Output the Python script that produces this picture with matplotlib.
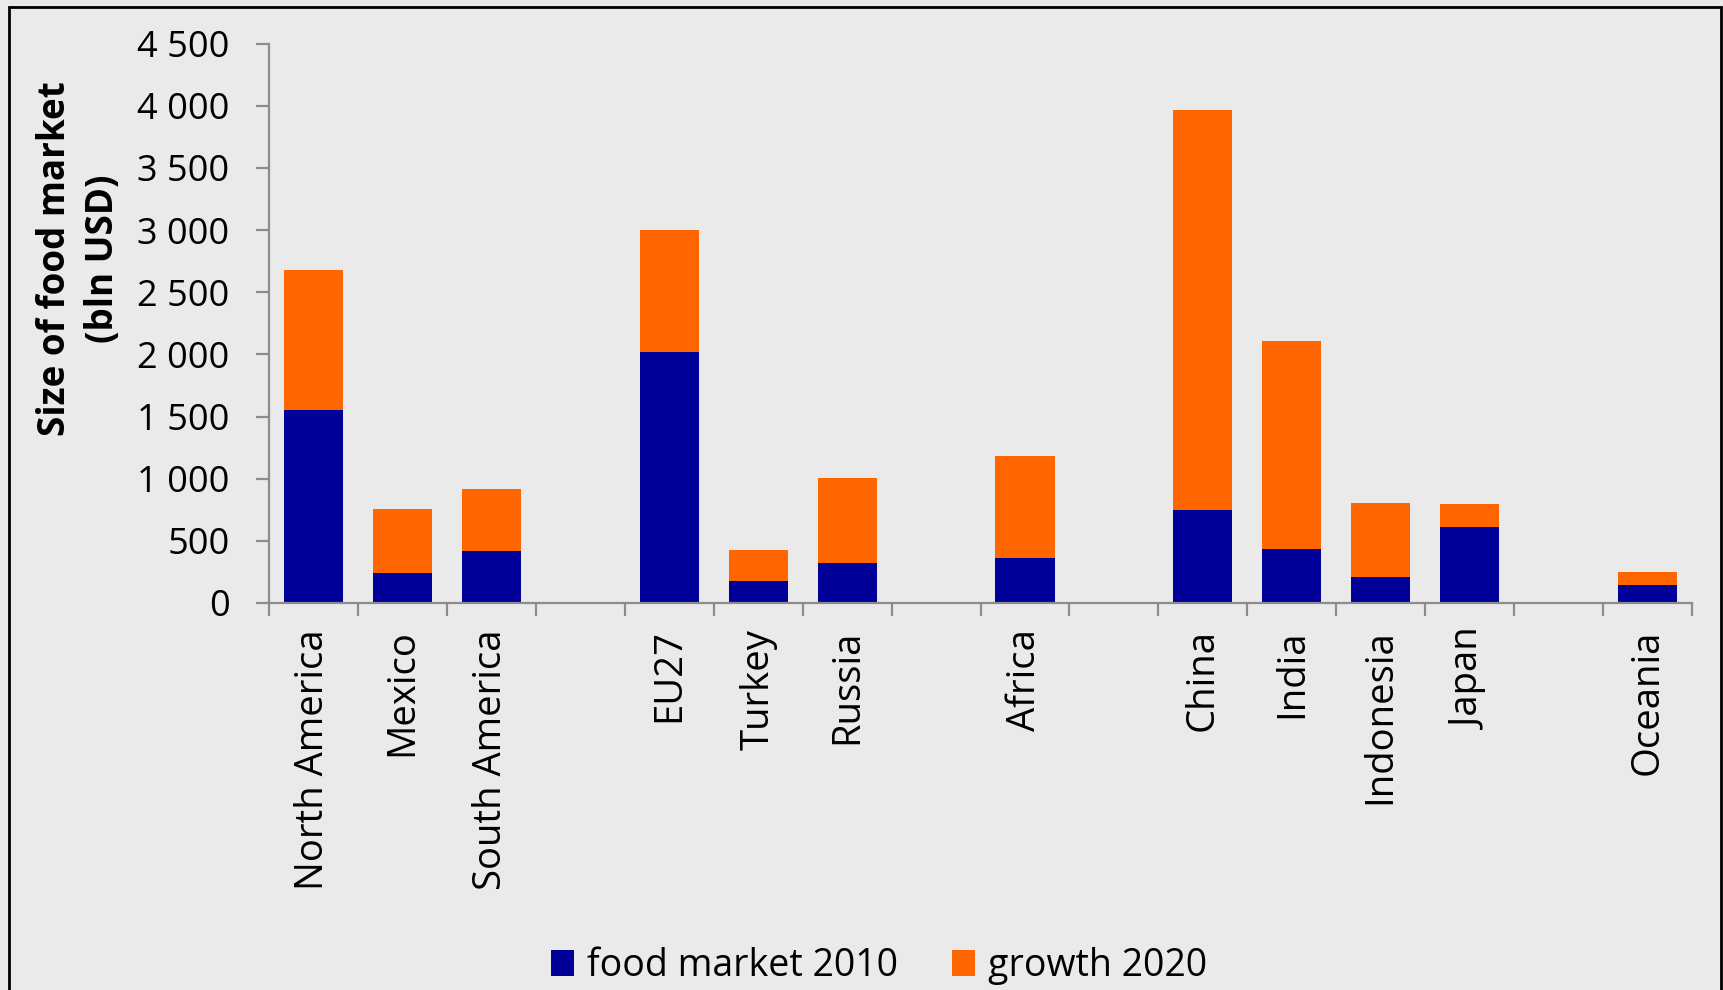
import numpy as np
import matplotlib.pyplot as plt
from matplotlib.patches import Rectangle
from matplotlib.ticker import FuncFormatter

plt.rcParams['font.family'] = ['Open Sans', 'DejaVu Sans']

# Regions, grouped; an empty slot sits between groups on the axis
groups = [
    ['North America', 'Mexico', 'South America'],
    ['EU27', 'Turkey', 'Russia'],
    ['Africa'],
    ['China', 'India', 'Indonesia', 'Japan'],
    ['Oceania'],
]
market_2010 = [1550, 244, 421, 2020, 179, 319, 359, 748, 434, 212, 611, 147]
total_2020 = [2680, 756, 914, 3000, 424, 1005, 1179, 3964, 2106, 801, 796, 247]
growth_2020 = [t - m for t, m in zip(total_2020, market_2010)]

labels = []
xpos = []
slot = 0
for g in groups:
    for name in g:
        labels.append(name)
        xpos.append(slot)
        slot += 1
    slot += 1
n_slots = slot - 1

BLUE = '#000099'
ORANGE = '#FF6600'
BG = '#EAEAEA'
GREY = '#8C8C8C'

fig = plt.figure(figsize=(17.23, 9.90), dpi=100, facecolor=BG)
ax = fig.add_axes([269 / 1723, 1 - 603 / 990, (1692 - 269) / 1723, (603 - 43.5) / 990])
ax.set_facecolor(BG)

w = 0.665
b1 = ax.bar(xpos, market_2010, w, color=BLUE, label='food market 2010')
b2 = ax.bar(xpos, growth_2020, w, bottom=market_2010, color=ORANGE, label='growth 2020')

ax.set_xlim(-0.5, n_slots - 0.5)
ax.set_ylim(0, 4500)
ax.set_yticks(np.arange(0, 4501, 500))
ax.yaxis.set_major_formatter(FuncFormatter(lambda v, p: f'{int(v):,}'.replace(',', ' ')))

# boundary ticks without labels, category labels on minor ticks
ax.set_xticks(np.arange(-0.5, n_slots, 1.0))
ax.set_xticklabels([])
ax.set_xticks(xpos, minor=True)
ax.set_xticklabels(labels, minor=True, rotation=90, va='top', fontsize=27.5)
ax.tick_params(axis='x', which='minor', length=0, pad=19)
ax.tick_params(axis='x', which='major', length=9.5, width=1.6, color=GREY)
ax.tick_params(axis='y', length=9.5, width=1.6, color=GREY, labelsize=26, pad=19)

for s in ['top', 'right']:
    ax.spines[s].set_visible(False)
for s in ['left', 'bottom']:
    ax.spines[s].set_color(GREY)
    ax.spines[s].set_linewidth(1.6)

fig.text(79 / 1723, 1 - 259 / 990, 'Size of food market\n(bln USD)', rotation=90,
         ha='center', va='center', fontsize=26.5, fontweight='bold', multialignment='center',
         linespacing=1.35)

fig.legend(handles=[b1, b2], loc='center', bbox_to_anchor=(879 / 1723, 1 - 966 / 990),
           ncol=2, frameon=False, fontsize=27, handlelength=0.6, handleheight=0.7,
           handletextpad=0.35, columnspacing=1.45)

# frame around the chart area
fig.patches.append(Rectangle((9 / 1723, -0.1), (1721 - 9) / 1723, 1.1 - 6.5 / 990,
                             transform=fig.transFigure, fill=False, edgecolor='black',
                             linewidth=2, zorder=10))

fig.savefig('out.png', dpi=100, facecolor=BG)
